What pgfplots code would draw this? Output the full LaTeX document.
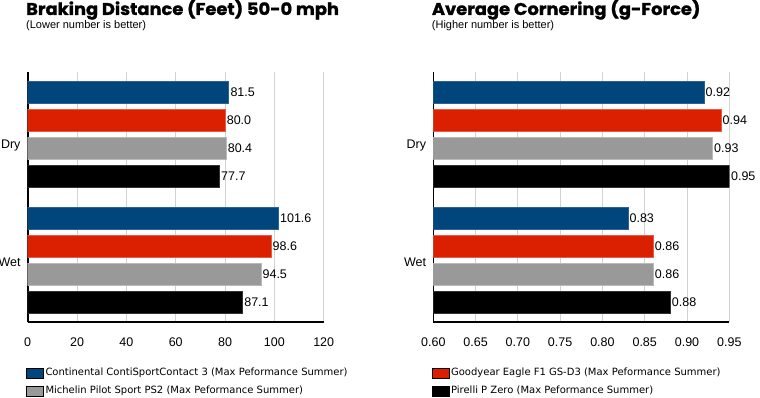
\documentclass[border=0pt]{standalone}
\usepackage{fontspec}
\setmainfont{Liberation Sans}
\newfontfamily\titlefont{Poppins}[BoldFeatures={FakeBold=1.2}]
\newfontfamily\legfont{DejaVu Sans}
\usepackage{graphicx}
\usepackage{pgfplots}
\pgfplotsset{compat=1.18}
\definecolor{cblue}{RGB}{0,69,124}
\definecolor{cblueE}{RGB}{40,100,150}
\definecolor{cred}{RGB}{218,32,0}
\definecolor{credE}{RGB}{235,90,70}
\definecolor{cgray}{RGB}{153,153,153}
\definecolor{cgrayE}{RGB}{185,185,185}
\definecolor{cblack}{RGB}{0,0,0}
\definecolor{cblackE}{RGB}{50,50,50}
\definecolor{gridgray}{RGB}{210,210,210}
\pgfplotsset{
  mybars/.style={
    scale only axis, width=296pt, height=250pt, anchor=south west,
    xbar, bar width=22pt, bar shift=0pt,
    ymin=0, ymax=250, ytick={177,60}, yticklabels={Dry,Wet},
    axis lines*=left, axis line style={line width=1.6pt, black},
    major tick length=0pt,
    xmajorgrids, grid style={line width=1pt, color=gridgray},
    tick label style={font=\fontsize{12.5}{14}\selectfont},
    xticklabel style={anchor=north, inner sep=0pt, yshift=-16pt},
    yticklabel style={anchor=east, inner sep=0pt, xshift=-7pt},
    /pgf/number format/assume math mode=true,
    nodes near coords, point meta=x,
    every node near coord/.append style={anchor=west, inner xsep=1.5pt, black, font=\fontsize{12.5}{14}\selectfont},
    legend style={at={(axis description cs:0,-0.182)}, anchor=north west, xshift=-1.7pt,
      draw=none, fill=none, inner sep=0pt, outer sep=0pt, row sep=7.5pt, column sep=0pt,
      cells={anchor=west}, font=\legfont\fontsize{10}{12}\selectfont,
      nodes={inner xsep=1.7pt, inner ysep=0pt, text height=7.5pt, text depth=2.5pt}},
  },
  myleg/.style={legend image code/.code={\draw[##1,draw=black,line width=0.8pt] (0pt,-5pt) rectangle (17pt,5pt);}},
}
\begin{document}
\begin{tikzpicture}[x=1pt,y=1pt]
\useasboundingbox (0,0) rectangle (760,397);
% Left chart
\begin{axis}[mybars, at={(27.7pt,75pt)}, xmin=0, xmax=120, xtick={0,20,40,60,80,100,120},
  nodes near coords={\pgfmathprintnumber[fixed,fixed zerofill,precision=1]{\pgfplotspointmeta}}]
\addplot[fill=cblue, draw=cblueE, line width=0.6pt, myleg] coordinates {(81.5,229.5) (101.6,104)};
\addlegendentry{Continental ContiSportContact 3 (Max Peformance Summer)}
\addplot[fill=cgray, draw=cgrayE, line width=0.6pt, myleg] coordinates {(80.4,174) (94.5,48)};
\addlegendentry{Michelin Pilot Sport PS2 (Max Peformance Summer)}
\addplot[fill=cred, draw=credE, line width=0.6pt, forget plot] coordinates {(80.0,201.5) (98.6,76)};
\addplot[fill=cblack, draw=cblackE, line width=0.6pt, forget plot] coordinates {(77.7,146) (87.1,20)};
\end{axis}
% Right chart
\begin{axis}[mybars, at={(433.3pt,75pt)}, xmin=0.6, xmax=0.95,
  xtick={0.60,0.65,0.70,0.75,0.80,0.85,0.90,0.95},
  xticklabel={\pgfmathprintnumber[fixed,fixed zerofill,precision=2]{\tick}},
  nodes near coords={\pgfmathprintnumber[fixed,fixed zerofill,precision=2]{\pgfplotspointmeta}}]
\addplot[fill=cred, draw=credE, line width=0.6pt, myleg] coordinates {(0.94,201.5) (0.86,76)};
\addlegendentry{Goodyear Eagle F1 GS-D3 (Max Peformance Summer)}
\addplot[fill=cblack, draw=cblackE, line width=0.6pt, myleg] coordinates {(0.95,146) (0.88,20)};
\addlegendentry{Pirelli P Zero (Max Peformance Summer)}
\addplot[fill=cblue, draw=cblueE, line width=0.6pt, forget plot] coordinates {(0.92,229.5) (0.83,104)};
\addplot[fill=cgray, draw=cgrayE, line width=0.6pt, forget plot] coordinates {(0.93,174) (0.86,48)};
\end{axis}
% Titles
\node[anchor=base west, inner sep=0pt] at (26,382) {\scalebox{1.05}[1]{\titlefont\bfseries\fontsize{17}{18}\selectfont Braking Distance (Feet) 50-0 mph}};
\node[anchor=base west, inner sep=0pt] at (26,368.6) {\fontsize{11}{13}\selectfont (Lower number is better)};
\node[anchor=base west, inner sep=0pt] at (431.7,382) {\scalebox{1.05}[1]{\titlefont\bfseries\fontsize{17}{18}\selectfont Average Cornering (g-Force)}};
\node[anchor=base west, inner sep=0pt] at (431.7,368.6) {\fontsize{11}{13}\selectfont (Higher number is better)};
\end{tikzpicture}
\end{document}
